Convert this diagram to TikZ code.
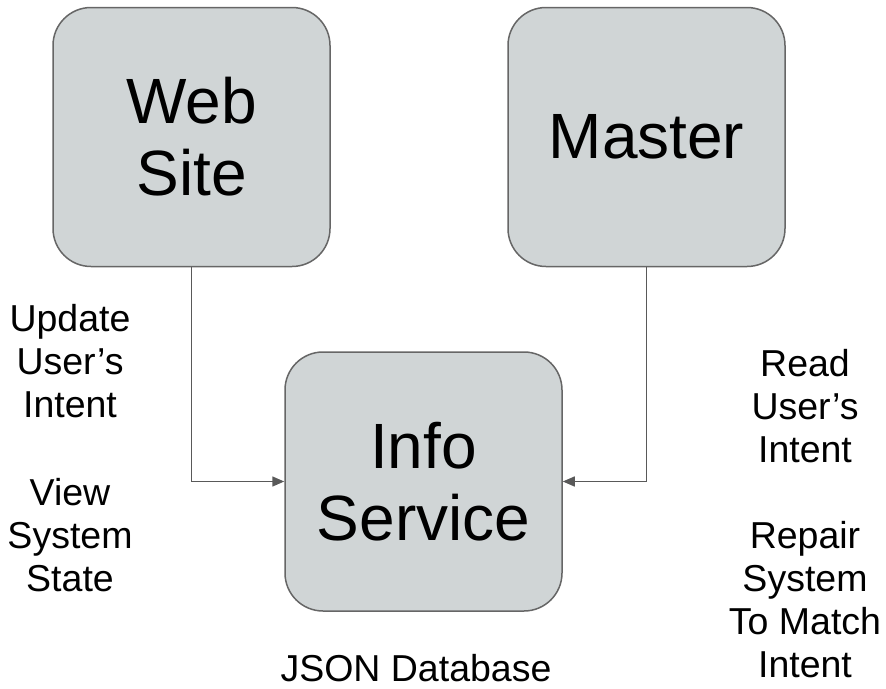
\documentclass[tikz,border=0pt]{standalone}
\usepackage{fontspec}
\setmainfont{Liberation Sans}
\usetikzlibrary{arrows.meta}
\definecolor{boxfill}{RGB}{208,213,214}
\definecolor{boxline}{RGB}{102,102,102}
\definecolor{wire}{RGB}{89,89,89}
\begin{document}
\begin{tikzpicture}[x=1pt,y=-1pt,
  block/.style={draw=boxline,line width=1.5pt,fill=boxfill,rounded corners=38pt,
    minimum width=277pt,minimum height=259pt,inner sep=0pt,align=center,
    font=\fontsize{64}{72}\selectfont},
  note/.style={inner sep=0pt,align=center,font=\fontsize{37.5}{43}\selectfont},
  flow/.style={draw=wire,line width=1.5pt,-{Triangle[length=12pt,width=10pt]}}]
\useasboundingbox (0,0) rectangle (886,688);

% services
\node[block] (web) at (191.5,137) {Web\\Site};
\node[block] (master) at (646.5,137) {Master};
\node[block] (info) at (423.5,481.5) {Info\\Service};

% data flow into the info service
\draw[flow] (web.south) |- (info.west);
\draw[flow] (master.south) |- (info.east);

% captions
\node[note] (webops1) at (70,361.5) {Update\\User's\\Intent};
\node[note] (webops2) at (70,535) {View\\System\\State};
\node[note] (masterops1) at (805,406) {Read\\User's\\Intent};
\node[note] (masterops2) at (805,600) {Repair\\System\\To Match\\Intent};
\node[note] (store) at (416,668) {JSON Database};
\end{tikzpicture}
\end{document}
